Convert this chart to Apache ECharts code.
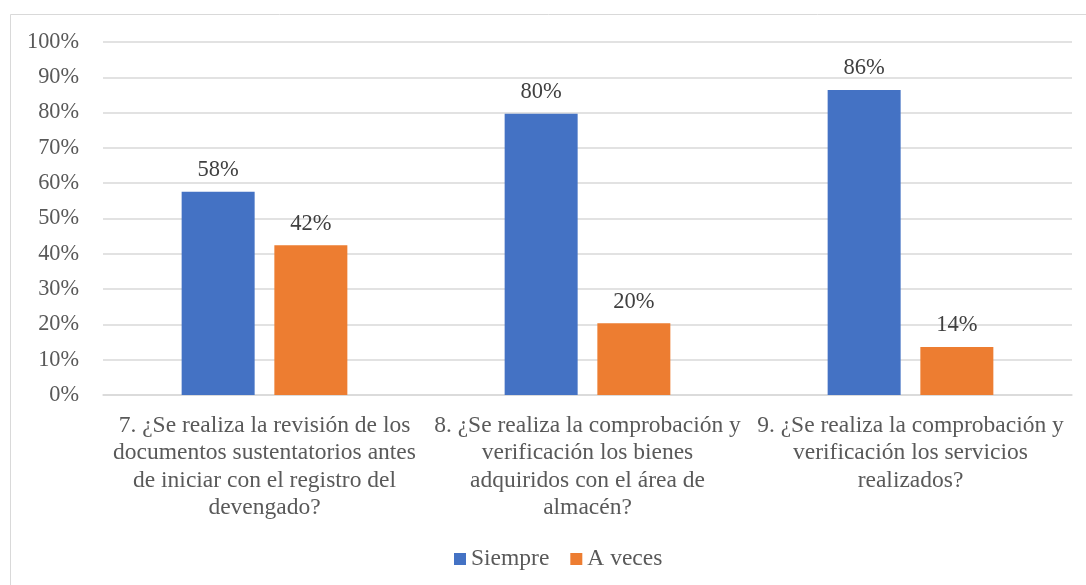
<!DOCTYPE html>
<html>
<head>
<meta charset="utf-8">
<script src="https://cdn.jsdelivr.net/npm/echarts@6/dist/echarts.min.js"></script>
<style>
html,body{margin:0;padding:0;background:#fff;}
#chart{width:1086px;height:585px;}
</style>
</head>
<body>
<div id="chart"></div>
<script>
const categories = [
  "7. ¿Se realiza la revisión de los\ndocumentos sustentatorios antes\nde iniciar con el registro del\ndevengado?",
  "8. ¿Se realiza la comprobación y\nverificación los bienes\nadquiridos con el área de\nalmacén?",
  "9. ¿Se realiza la comprobación y\nverificación los servicios\nrealizados?"
];
const seriesNames = ["Siempre", "A veces"];
const siempre = [57.6, 79.7, 86.4];
const aVeces = [42.4, 20.3, 13.6];
const yTicks = [0, 10, 20, 30, 40, 50, 60, 70, 80, 90, 100];

const font = 'Liberation Serif';
const chart = echarts.init(document.getElementById('chart'), null, {renderer: 'canvas'});
const labelCfg = {
  show: true, position: 'top', distance: 10,
  fontFamily: font, fontSize: 22.5, color: '#404040',
  formatter: p => Math.round(p.value) + '%'
};
chart.setOption({
  animation: false,
  backgroundColor: '#ffffff',
  graphic: [{
    type: 'rect', left: 8, top: 12,
    shape: {width: 1076, height: 571},
    style: {fill: 'none', stroke: '#d9d9d9', lineWidth: 1},
    silent: true
  }],
  grid: {left: 103, right: 14, top: 42, bottom: 190, containLabel: false},
  legend: {
    top: 542, left: 449,
    itemWidth: 12, itemHeight: 12, itemGap: 21,
    icon: 'rect',
    textStyle: {fontFamily: font, fontSize: 23.5, color: '#595959', padding: [0,0,0,0]},
    data: seriesNames
  },
  xAxis: {
    type: 'category',
    data: categories,
    axisLine: {show: true, lineStyle: {color: '#d9d9d9', width: 1.5}},
    axisTick: {show: false},
    axisLabel: {
      interval: 0, margin: 17,
      fontFamily: font, fontSize: 23.5, color: '#595959', lineHeight: 27.5,
      align: 'center'
    }
  },
  yAxis: {
    type: 'value', min: yTicks[0], max: yTicks[yTicks.length - 1], interval: 10,
    axisLine: {show: false}, axisTick: {show: false},
    splitLine: {lineStyle: {color: '#d9d9d9', width: 1.5}},
    axisLabel: {
      margin: 24, fontFamily: font, fontSize: 22.3, color: '#595959',
      formatter: v => v + '%'
    }
  },
  series: [
    {name: seriesNames[0], type: 'bar', data: siempre, barWidth: 73, barGap: '27%',
     itemStyle: {color: '#4472C4'}, label: labelCfg},
    {name: seriesNames[1], type: 'bar', data: aVeces, barWidth: 73,
     itemStyle: {color: '#ED7D31'}, label: labelCfg}
  ]
});
</script>
</body>
</html>
